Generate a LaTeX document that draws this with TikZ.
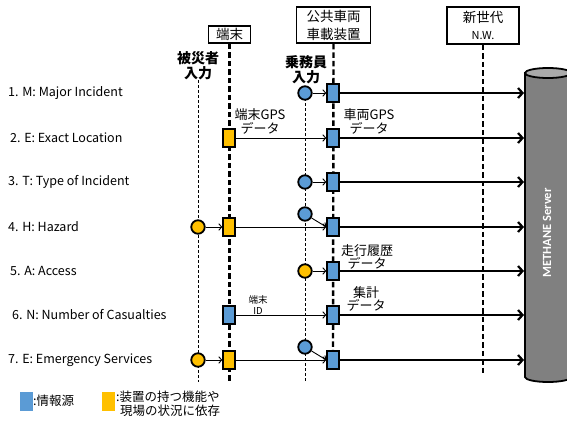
\documentclass[tikz,border=0pt]{standalone}
\usepackage{fontspec}
\setmainfont{Noto Sans CJK JP}
\newfontfamily\carlito{Carlito}
\usetikzlibrary{arrows.meta,backgrounds}
\definecolor{iblue}{RGB}{91,155,213}
\definecolor{iyellow}{RGB}{255,192,0}
\definecolor{srvgray}{RGB}{128,128,128}
\definecolor{srvtop}{RGB}{170,170,170}
\begin{document}
\begin{tikzpicture}[x=1pt,y=-1pt,
 hdr/.style={draw, line width=1.8pt, fill=white, align=center, inner sep=0pt},
 life/.style={line width=2.4pt, dash pattern=on 5.5pt off 3pt},
 thinlife/.style={line width=0.8pt, dash pattern=on 3pt off 2pt},
 brect/.style={draw, line width=1.8pt, fill=iblue, minimum width=11.5pt, minimum height=18.5pt, inner sep=0pt},
 yrect/.style={brect, fill=iyellow},
 bcirc/.style={circle, draw, line width=1.8pt, fill=iblue, minimum size=13.5pt, inner sep=0pt},
 ycirc/.style={bcirc, fill=iyellow},
 thinarr/.style={-{Straight Barb[length=3pt,width=6.5pt]}, line width=0.9pt},
 thickarr/.style={-{Straight Barb[length=4.5pt,width=10pt]}, line width=2.2pt},
 rowlbl/.style={anchor=west, inner sep=0pt, font=\fontsize{12.5}{14}\selectfont},
 dlbl/.style={align=center, inner sep=0pt, font=\fontsize{13}{13.5}\selectfont},
 inlbl/.style={align=center, inner sep=0pt, font=\bfseries\fontsize{14}{15}\selectfont},
 lgtxt/.style={inner sep=0pt, align=left, font=\fontsize{12.5}{14}\selectfont},
]
\useasboundingbox (0,0) rectangle (567,420);

% header boxes
\node[hdr, minimum width=42pt, minimum height=17pt, font=\fontsize{13.5}{14}\selectfont] (term) at (229.5,34.5) {端末};
\node[hdr, minimum width=74pt, minimum height=36pt, font=\fontsize{13.5}{18}\selectfont] (veh) at (333.5,25) {公共車両\\車載装置};
\node[hdr, minimum width=72pt, minimum height=37pt, font=\fontsize{13.5}{17}\selectfont] (nw) at (483,25.5) {新世代\\{\fontsize{11}{12}\selectfont N.W.}};

% input labels
\node[inlbl] (vin) at (198,66) {被災者\\入力};
\node[inlbl] (cin) at (306,70) {乗務員\\入力};

\coordinate (bottom) at (0,382);
\coordinate (nwbottom) at (0,373);
\coordinate (srvL) at (524,0);

% row labels
\node[rowlbl] (m1) at (8,93) {1. M: Major Incident};
\node[rowlbl] (m2) at (10,138) {2. E: Exact Location};
\node[rowlbl] (m3) at (8,182) {3. T: Type of Incident};
\node[rowlbl] (m4) at (8,227) {4. H: Hazard};
\node[rowlbl] (m5) at (10,271) {5. A: Access};
\node[rowlbl] (m6) at (12,315) {6. N: Number of Casualties};
\node[rowlbl] (m7) at (8,360) {7. E: Emergency Services};

% row 1
\node[bcirc] (c1) at (305,93) {};
\node[brect] (r1) at (333,93) {};
% row 2
\node[yrect] (t2) at (229,138) {};
\node[brect] (r2) at (333,138) {};
% row 3
\node[bcirc] (c3) at (305,182) {};
\node[brect] (r3) at (333,182) {};
% row 4
\node[ycirc] (v4) at (198,227) {};
\node[yrect] (t4) at (229,227) {};
\node[bcirc] (c4) at (305,214) {};
\node[brect] (r4) at (333,227) {};
% row 5
\node[ycirc] (c5) at (305,271) {};
\node[brect] (r5) at (333,271) {};
% row 6
\node[brect] (t6) at (229,315) {};
\node[brect] (r6) at (333,315) {};
% row 7
\node[ycirc] (v7) at (198,360) {};
\node[yrect] (t7) at (229,360) {};
\node[bcirc] (c7) at (305,347) {};
\node[brect] (r7) at (333,360) {};

% lifelines
\begin{scope}[on background layer]
\draw[life] (term.south) -- (term.south |- bottom);
\draw[life] (veh.south) -- (r7.center);
\draw[life] (nw.south) -- (nw.south |- nwbottom);
\draw[thinlife] (vin.south) -- (vin.south |- bottom);
\draw[thinlife] (c1.center) -- (c1.center |- bottom);
\end{scope}

% thin arrows
\draw[thinarr] (c1) -- (r1);
\draw[thinarr] (t2) -- (r2);
\draw[thinarr] (c3) -- (r3);
\draw[thinarr] (v4) -- (t4);
\draw[thinarr] (t4) -- (r4);
\draw[thinarr] (c4) -- (r4.west);
\draw[thinarr] (c5) -- (r5);
\draw[thinarr] (t6) -- (r6);
\draw[thinarr] (v7) -- (t7);
\draw[thinarr] (t7) -- (r7);
\draw[thinarr] (c7) -- (r7.west);

% thick arrows to server
\foreach \r in {r1,r2,r3,r4,r5,r6,r7}
  \draw[thickarr] (\r.east) -- (\r.east -| srvL);

% data labels
\node[dlbl] (l2a) at (260,121.5) {端末GPS\\データ};
\node[dlbl] (l2b) at (369,121.5) {車両GPS\\データ};
\node[dlbl] (l5) at (367,257) {走行履歴\\データ};
\node[dlbl, font=\fontsize{9.5}{10.5}\selectfont] (l6a) at (258,305) {端末\\ID};
\node[dlbl] (l6b) at (366,299) {集計\\データ};

% server
\draw[line width=1.8pt, fill=srvgray] (525,73) -- (525,377) arc[start angle=180, end angle=0, x radius=23, y radius=5] -- (571,73) -- cycle;
\draw[line width=1.8pt, fill=srvtop] (548,73) ellipse [x radius=23, y radius=5];
\node[rotate=90, text=white, inner sep=0pt, font=\carlito\bfseries\fontsize{12.5}{14}\selectfont] (srvtxt) at (547,233) {METHANE Server};

% legend
\node[fill=iblue, minimum width=13pt, minimum height=19pt, inner sep=0pt] (lgb) at (26,401) {};
\node[lgtxt, anchor=west] (lgbt) at (33,401) {:情報源};
\node[fill=iyellow, minimum width=13pt, minimum height=19pt, inner sep=0pt] (lgy) at (108.5,401) {};
\node[lgtxt, anchor=north west] (lgyt) at (116,391) {:装置の持つ機能や\\\hspace*{4pt}現場の状況に依存};
\end{tikzpicture}
\end{document}
